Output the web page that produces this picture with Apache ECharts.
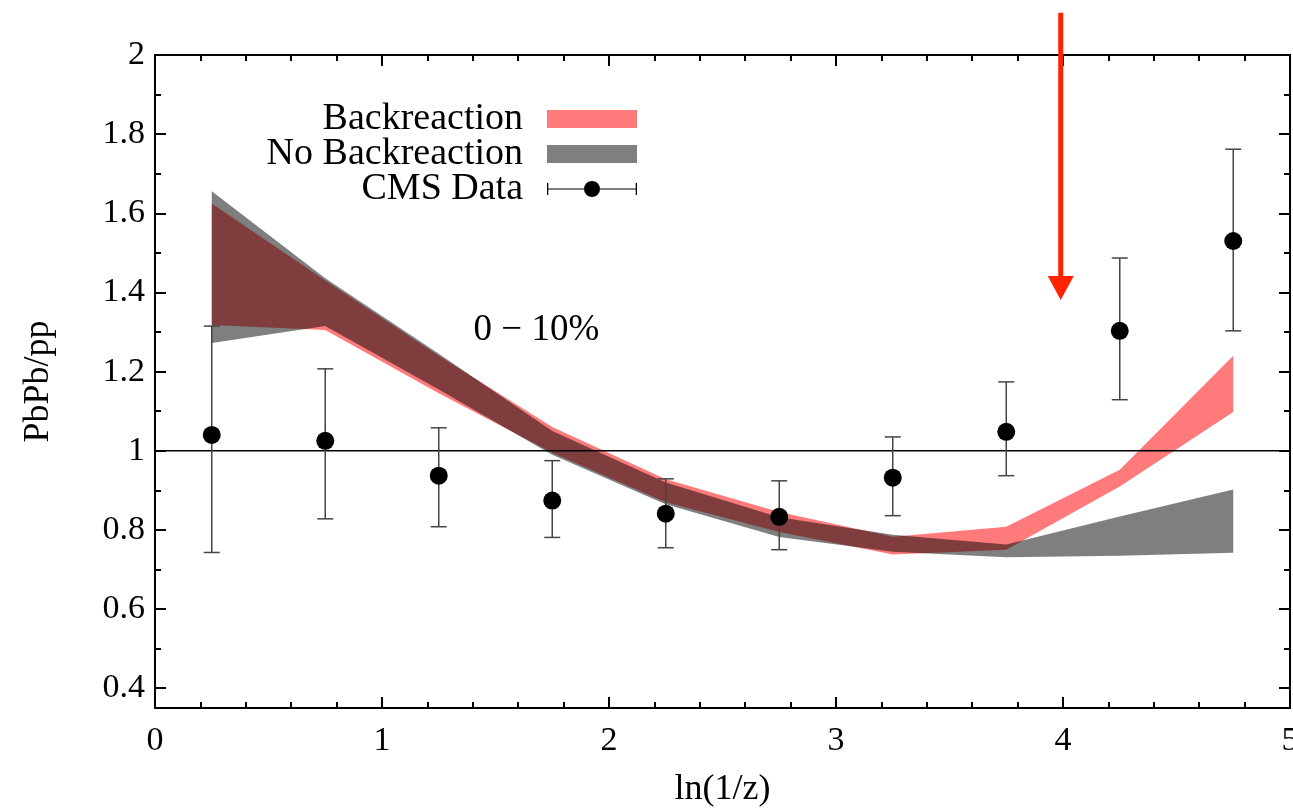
<!DOCTYPE html>
<html>
<head>
<meta charset="utf-8">
<script src="https://cdn.jsdelivr.net/npm/echarts@6/dist/echarts.min.js"></script>
<style>
  html, body { margin: 0; padding: 0; background: #fff; }
  #chart { width: 1293px; height: 809px; }
</style>
</head>
<body>
<div id="chart"></div>
<script>
// bin centres in ln(1/z)
const xs = [0.25, 0.75, 1.25, 1.75, 2.25, 2.75, 3.25, 3.75, 4.25, 4.75];

// model bands
const backLow    = [1.318, 1.305, 1.145, 0.995, 0.870, 0.795, 0.738, 0.750, 0.910, 1.098];
const backHigh   = [1.625, 1.430, 1.240, 1.060, 0.928, 0.845, 0.783, 0.808, 0.952, 1.240];
const noBackLow  = [1.272, 1.315, 1.155, 0.990, 0.865, 0.782, 0.745, 0.731, 0.735, 0.742];
const noBackHigh = [1.656, 1.436, 1.245, 1.050, 0.920, 0.832, 0.788, 0.763, 0.834, 0.902];

// CMS data
const cmsY    = [1.040, 1.025, 0.937, 0.874, 0.841, 0.833, 0.932, 1.048, 1.303, 1.530];
const cmsLow  = [0.743, 0.828, 0.808, 0.781, 0.755, 0.750, 0.836, 0.937, 1.129, 1.303];
const cmsHigh = [1.315, 1.207, 1.058, 0.975, 0.929, 0.924, 1.035, 1.174, 1.487, 1.762];

// axis ticks
const yMajor = [0.4, 0.6, 0.8, 1, 1.2, 1.4, 1.6, 1.8, 2];
const yMinor = [0.4, 0.5, 0.6, 0.7, 0.8, 0.9, 1, 1.1, 1.2, 1.3, 1.4, 1.5, 1.6, 1.7, 1.8, 1.9, 2];

// annotations
const centrality = '0 − 10%';
const centralityPos = [1.68, 1.305];
const arrowX = 3.99, arrowTop = 2.107, arrowTip = 1.381;

const FONT = '"Liberation Serif", serif';
const RED = 'rgba(255,0,0,0.52)';
const GREY = 'rgba(0,0,0,0.5)';

const chart = echarts.init(document.getElementById('chart'));

function bandRenderer(low, high, color) {
  return function (params, api) {
    if (params.dataIndex !== 0) return;
    const pts = [];
    for (let i = 0; i < xs.length; i++) pts.push(api.coord([xs[i], high[i]]));
    for (let i = xs.length - 1; i >= 0; i--) pts.push(api.coord([xs[i], low[i]]));
    return { type: 'polygon', shape: { points: pts }, style: { fill: color } };
  };
}

const axisLine = { show: true, lineStyle: { color: '#000', width: 2 } };
const tickStyle = { color: '#000', width: 2 };
const labelFont = { fontFamily: FONT, fontSize: 34, color: '#000' };

const xAxisBase = {
  type: 'value', min: 0, max: 5, interval: 1,
  axisLine: axisLine,
  axisTick: { inside: true, length: 11, lineStyle: tickStyle },
  minorTick: { show: true, splitNumber: 5, length: 6, lineStyle: tickStyle },
  splitLine: { show: false }
};

function yAxisDef(pos, ticks, len, withLine, withLabel) {
  return {
    type: 'value', min: 0.35, max: 2, position: pos,
    axisLine: withLine ? axisLine : { show: false },
    axisTick: { inside: true, length: len, lineStyle: tickStyle, customValues: ticks },
    splitLine: { show: false },
    axisLabel: withLabel
      ? Object.assign({ customValues: yMajor, margin: 10, formatter: v => String(v) }, labelFont)
      : { show: false }
  };
}

const yAxes = [
  yAxisDef('left', yMajor, 11, true, true),
  yAxisDef('left', yMinor, 6, false, false),
  yAxisDef('right', yMajor, 11, true, false),
  yAxisDef('right', yMinor, 6, false, false)
];
Object.assign(yAxes[0], {
  name: 'PbPb/pp', nameLocation: 'middle', nameGap: 98,
  nameTextStyle: { fontFamily: FONT, fontSize: 36, color: '#000' }
});

const cmsIcon = 'path://M0,8.4H90V9.6H0Z M0,3H1.3V15H0Z M88.7,3H90V15H88.7Z M37,9A8,8 0 1 1 53,9A8,8 0 1 1 37,9Z';

chart.setOption({
  animation: false,
  backgroundColor: '#fff',
  grid: { left: 155, right: 3, top: 55, bottom: 101, containLabel: false, outerBoundsMode: 'none' },
  legend: {
    data: [
      { name: 'Backreaction', icon: 'rect' },
      { name: 'No Backreaction', icon: 'rect' },
      { name: 'CMS Data', icon: cmsIcon }
    ],
    orient: 'vertical', align: 'right',
    right: 656, top: 100, padding: 0,
    itemWidth: 90, itemHeight: 18, itemGap: -3,
    selectedMode: false,
    formatter: name => name + '  ',
    textStyle: { fontFamily: FONT, fontSize: 38, color: '#000', lineHeight: 35 }
  },
  xAxis: [
    Object.assign({}, xAxisBase, {
      position: 'bottom',
      axisLabel: Object.assign({ margin: 16 }, labelFont),
      name: 'ln(1/z)', nameLocation: 'middle', nameGap: 64,
      nameTextStyle: { fontFamily: FONT, fontSize: 36, color: '#000' }
    }),
    Object.assign({}, xAxisBase, { position: 'top', axisLabel: { show: false } })
  ],
  yAxis: yAxes,
  series: [
    {
      name: 'Backreaction', type: 'custom', clip: true,
      itemStyle: { color: RED },
      data: xs.map((x, i) => [x, backLow[i], backHigh[i]]),
      encode: { x: 0, y: [1, 2] },
      renderItem: bandRenderer(backLow, backHigh, RED), z: 1
    },
    {
      name: 'No Backreaction', type: 'custom', clip: true,
      itemStyle: { color: GREY },
      data: xs.map((x, i) => [x, noBackLow[i], noBackHigh[i]]),
      encode: { x: 0, y: [1, 2] },
      renderItem: bandRenderer(noBackLow, noBackHigh, GREY), z: 2
    },
    {
      name: 'unity', type: 'line', symbol: 'none', silent: true, z: 3,
      lineStyle: { color: '#000', width: 1.5 },
      data: [[0, 1], [5, 1]]
    },
    {
      name: 'CMS Data', type: 'custom', z: 4,
      itemStyle: { color: '#000' },
      data: xs.map((x, i) => [x, cmsY[i], cmsLow[i], cmsHigh[i]]),
      encode: { x: 0, y: [1, 2, 3] },
      renderItem: function (params, api) {
        const lo = api.coord([api.value(0), api.value(2)]);
        const hi = api.coord([api.value(0), api.value(3)]);
        const w = 8;
        const st = { stroke: '#444', lineWidth: 1.5 };
        return {
          type: 'group',
          children: [
            { type: 'line', shape: { x1: lo[0], y1: lo[1], x2: hi[0], y2: hi[1] }, style: st },
            { type: 'line', shape: { x1: lo[0] - w, y1: lo[1], x2: lo[0] + w, y2: lo[1] }, style: st },
            { type: 'line', shape: { x1: hi[0] - w, y1: hi[1], x2: hi[0] + w, y2: hi[1] }, style: st }
          ]
        };
      }
    },
    {
      name: 'CMS Data', type: 'scatter', z: 5,
      symbol: 'circle', symbolSize: 18,
      itemStyle: { color: '#000', opacity: 1 },
      data: xs.map((x, i) => [x, cmsY[i]])
    }
  ]
});

// annotations positioned through the axes
const tp = chart.convertToPixel({ xAxisIndex: 0, yAxisIndex: 0 }, centralityPos);
const aTop = chart.convertToPixel({ xAxisIndex: 0, yAxisIndex: 0 }, [arrowX, arrowTop]);
const aTip = chart.convertToPixel({ xAxisIndex: 0, yAxisIndex: 0 }, [arrowX, arrowTip]);
const headH = 24, headW = 13;
chart.setOption({
  graphic: [
    {
      type: 'text', x: tp[0], y: tp[1], z: 10,
      style: { text: centrality, fontFamily: FONT, fontSize: 37, fill: '#000', align: 'center', verticalAlign: 'middle' }
    },
    {
      type: 'line', z: 10,
      shape: { x1: aTop[0], y1: aTop[1], x2: aTip[0], y2: aTip[1] - headH + 2 },
      style: { stroke: '#ff2200', lineWidth: 5 }
    },
    {
      type: 'polygon', z: 10,
      shape: { points: [[aTip[0] - headW, aTip[1] - headH], [aTip[0] + headW, aTip[1] - headH], [aTip[0], aTip[1]]] },
      style: { fill: '#ff2200' }
    }
  ]
});
</script>
</body>
</html>
